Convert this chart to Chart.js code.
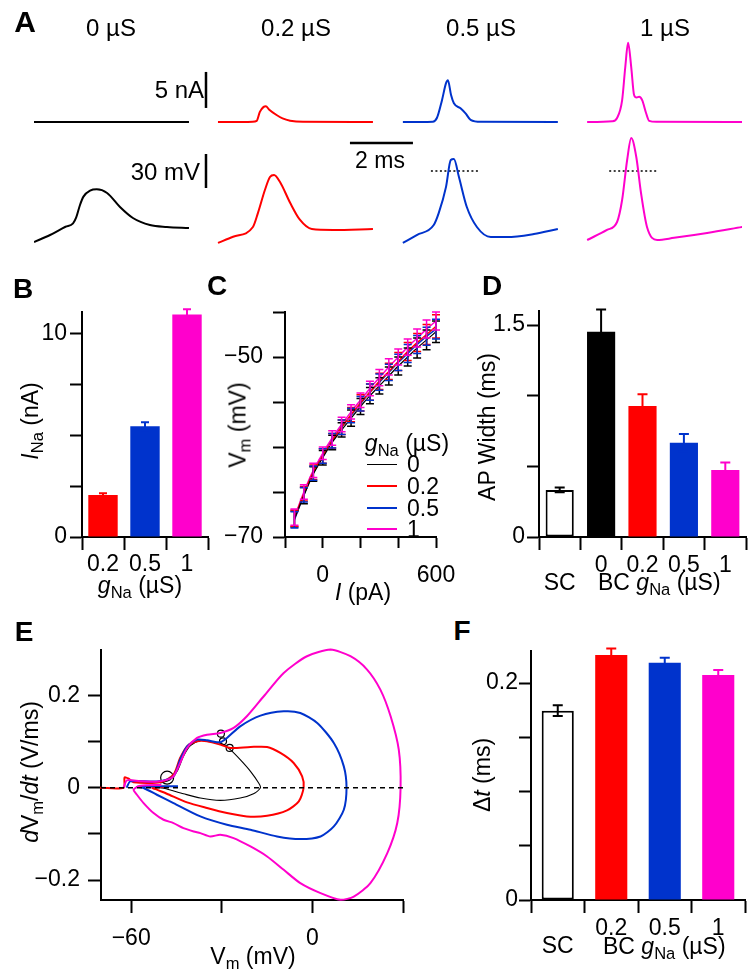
<!DOCTYPE html>
<html>
<head>
<meta charset="utf-8">
<script src="https://cdn.jsdelivr.net/npm/chart.js@4.4.1/dist/chart.umd.min.js"></script>
<style>
html,body{margin:0;padding:0;background:#fff;}
#fig{position:relative;width:748px;height:970px;overflow:hidden;font-family:'Liberation Sans',Arial,Helvetica,sans-serif;color:#000;}
#fig canvas{position:absolute;}
.t{position:absolute;white-space:nowrap;line-height:1;}
sub{font-size:72%;vertical-align:baseline;position:relative;top:0.32em;line-height:0;}
.sw{position:absolute;height:0;}
</style>
</head>
<body>
<div id="fig"></div>
<script>
// ---- colours
const BLACK = '#000000', RED = '#ff0000', BLUE = '#0033cc', MAGENTA = '#ff00cc';

// ---- panel A: simulated traces (time in ms, current in nA, voltage in mV)
const iTime0 = [0, 4.92];
const iVal0 = [0, 0];
const iTime02 = [0, 1.1, 1.23, 1.33, 1.45, 1.52, 1.62, 1.86, 2.05, 2.29, 2.7, 4.92];
const iVal02 = [0, 0.02, 0.15, 1.4, 2.1, 2.2, 1.75, 0.97, 0.5, 0.18, 0.02, 0];
const iTime05 = [0, 0.95, 1.08, 1.24, 1.37, 1.43, 1.53, 1.62, 1.83, 1.99, 2.15, 2.48, 4.92];
const iVal05 = [0, 0.05, 0.55, 3.0, 5.4, 5.8, 3.75, 2.6, 1.9, 1.2, 0.3, 0.02, 0];
const iTime1 = [0, 0.8, 0.95, 1.11, 1.21, 1.30, 1.40, 1.49, 1.57, 1.65, 1.75, 1.87, 1.97, 2.2, 4.92];
const iVal1 = [0, 0.1, 0.55, 3.0, 7.6, 11.0, 7.6, 3.75, 3.4, 3.5, 3.0, 1.25, 0.15, 0.02, 0];

const vTime0 = [0, 0.51, 1.0, 1.24, 1.34, 1.46, 1.57, 1.78, 1.99, 2.32, 2.73, 3.14, 3.68, 4.22, 4.92];
const vVal0 = [-62.7, -56.5, -49.2, -46.2, -41, -30, -22.6, -17.4, -16.2, -19.4, -31.8, -41.5, -47.7, -49.4, -50.3];
const vTime02 = [0, 0.48, 1.11, 1.27, 1.49, 1.65, 1.78, 1.97, 2.29, 2.6, 2.98, 3.65, 4.92];
const vVal02 = [-63.5, -58, -49.4, -37, -16.8, -5.3, -3.5, -9.7, -28, -43, -51.2, -52, -51.2];
const vTime05 = [0, 0.44, 0.98, 1.14, 1.37, 1.52, 1.62, 1.78, 2.03, 2.35, 2.79, 3.30, 4.16, 4.92];
const vVal05 = [-63.5, -56.5, -47.7, -37, -14, 9.7, 10.6, -5.3, -31.8, -49.4, -58.3, -58.3, -55.6, -51.2];
const vTime1 = [0, 0.63, 0.95, 1.11, 1.27, 1.40, 1.56, 1.71, 1.90, 2.22, 2.76, 3.81, 4.92];
const vVal1 = [-60.9, -52, -45, -25.6, 9.7, 29.1, 12.4, -19.4, -49.4, -60.9, -59, -54.7, -49.4];

// 0 mV reference (dotted) spans, ms within column
const zeroSpan05 = [0.89, 2.44];
const zeroSpan1 = [0.70, 2.25];

// ---- panel B
const bCats = ['0.2', '0.5', '1'];
const bMean = [2.06, 5.44, 10.93];
const bErr = [0.09, 0.2, 0.25];

// ---- panel C: V-I relation
const cCurrent = [-150, -100, -50, 0, 50, 100, 150, 200, 250, 300, 350, 400, 450, 500, 550, 600];
const cV0 = [-68.0, -65.4, -63.0, -61.2, -59.5, -58.1, -56.8, -55.5, -54.3, -53.2, -52.1, -51.0, -50.0, -49.0, -48.1, -47.2];
const cV02 = [-67.9, -65.2, -62.8, -61.0, -59.3, -57.8, -56.4, -55.1, -53.9, -52.7, -51.6, -50.5, -49.4, -48.4, -47.5, -46.6];
const cV05 = [-68.1, -65.3, -62.9, -61.0, -59.3, -57.8, -56.5, -55.2, -53.9, -52.8, -51.7, -50.6, -49.6, -48.6, -47.7, -46.9];
const cV1 = [-67.8, -65.0, -62.6, -60.7, -59.0, -57.5, -56.1, -54.8, -53.5, -52.3, -51.1, -50.0, -48.9, -47.9, -46.9, -46.0];
const cErr0 = [0.9, 0.9, 0.8, 0.8, 0.8, 0.8, 0.9, 0.9, 0.9, 0.9, 1.0, 1.0, 1.0, 1.1, 1.1, 1.2];
const cErr02 = [0.9, 0.8, 0.8, 0.8, 0.8, 0.8, 0.8, 0.9, 0.9, 0.9, 0.9, 1.0, 1.0, 1.0, 1.1, 1.3];
const cErr05 = [0.9, 0.8, 0.8, 0.8, 0.8, 0.8, 0.8, 0.8, 0.9, 0.9, 0.9, 0.9, 1.0, 1.0, 1.0, 1.1];
const cErr1 = [0.9, 0.8, 0.8, 0.7, 0.8, 0.8, 0.8, 0.8, 0.8, 0.9, 0.9, 0.9, 0.9, 1.0, 1.0, 1.0];

// ---- panel D
const dCats = [['', 'SC'], '0', '0.2', '0.5', '1'];
const dMean = [0.333, 1.453, 0.927, 0.667, 0.474];
const dErr = [0.017, 0.157, 0.083, 0.062, 0.054];

// ---- panel E: phase plots (Vm in mV, dVm/dt in V/ms)
const pV1 = [-62.5, -61.4, -57.0, -52.0, -48.2, -46.0, -43.8, -41.5, -38.2, -34.9, -30.5, -26.1, -21.7, -16.1, -9.5, -1.8, 6.0, 12.6, 18.1, 22.5, 25.9, 28.6, 29.2, 28.1, 24.8, 19.2, 13.7, 9.3, 2.7, -4.0, -9.5, -15.0, -20.5, -26.1, -30.5, -33.8, -37.1, -39.3, -42.7, -46.0, -49.3, -52.6, -55.9, -58.1, -59.2, -57.0, -50.0];
const pD1 = [0.0, 0.016, 0.014, 0.013, 0.017, 0.0245, 0.0535, 0.086, 0.1077, 0.1148, 0.1185, 0.1293, 0.1545, 0.1979, 0.2484, 0.2845, 0.299, 0.2845, 0.2557, 0.2123, 0.1545, 0.0823, 0.0, -0.0765, -0.1415, -0.2065, -0.2355, -0.2427, -0.2282, -0.2065, -0.1777, -0.1488, -0.1272, -0.109, -0.1018, -0.1055, -0.0982, -0.0946, -0.0874, -0.0765, -0.0693, -0.0548, -0.0332, -0.0152, -0.0043, 0.004, 0.006];
const pV05 = [-61.5, -60.3, -51.5, -46.0, -43.8, -41.5, -38.2, -34.9, -30.5, -28.3, -23.9, -17.2, -9.5, -4.0, 1.6, 7.1, 10.4, 11.3, 10.4, 7.1, 2.7, -4.0, -11.7, -20.5, -28.3, -37.1, -46.0, -51.5, -55.9, -58.0, -51.0, -44.5];
const pD05 = [0.0, 0.0137, 0.0137, 0.0245, 0.0607, 0.0895, 0.104, 0.1025, 0.0982, 0.1077, 0.1329, 0.156, 0.1654, 0.1618, 0.1402, 0.0968, 0.0462, 0.0, -0.0477, -0.0838, -0.1055, -0.1112, -0.1055, -0.091, -0.0802, -0.0621, -0.0332, -0.0152, -0.0007, 0.002, 0.003, 0.003];
const pV02 = [-70.3, -62.5, -62.2, -61.0, -59.2, -50.4, -46.0, -43.8, -41.5, -38.2, -34.9, -30.5, -27.2, -20.5, -15.0, -10.6, -6.2, -3.4, -2.9, -4.5, -8.4, -15.0, -21.7, -28.3, -34.9, -41.5, -48.2, -51.5, -53.0, -48.0];
const pD02 = [0.0, 0.0, 0.022, 0.02, 0.0116, 0.0116, 0.0282, 0.0643, 0.0895, 0.1004, 0.1004, 0.0932, 0.086, 0.0881, 0.0881, 0.0752, 0.0535, 0.0245, 0.0, -0.0296, -0.0491, -0.0607, -0.0621, -0.0548, -0.044, -0.0318, -0.013, -0.0043, 0.0, 0.002];
const pV0 = [-50.4, -47.1, -44.8, -42.7, -40.4, -37.1, -33.8, -29.9, -27.2, -23.9, -20.5, -17.8, -17.2, -19.5, -23.9, -30.5, -37.1, -42.7, -48.2, -50.4];
const pD0 = [0.0101, 0.0173, 0.0354, 0.0679, 0.091, 0.1025, 0.1004, 0.0953, 0.0823, 0.0607, 0.0354, 0.0101, 0.0, -0.013, -0.0224, -0.0274, -0.0224, -0.013, -0.0029, 0.0];
// threshold markers
const thrV = [-48.1, -30.3, -29.6, -27.4];
const thrD = [0.0217, 0.117, 0.1004, 0.086];

// ---- panel F
const fCats = [['', 'SC'], '0.2', '0.5', '1'];
const fMean = [0.1745, 0.2258, 0.2187, 0.2074];
const fErr = [0.005, 0.006, 0.0046, 0.0046];

// ---------------------------------------------------------------
Chart.defaults.font.family = "'Liberation Sans', Arial, Helvetica, sans-serif";
Chart.defaults.font.size = 23;
Chart.defaults.color = '#000';

const fig = document.getElementById('fig');

function fmt(v){
  const r = Math.round(v * 1000) / 1000;
  return (r < 0 ? '\u2212' : '') + Math.abs(r);
}

function pts(xs, ys, off){
  return xs.map((x, i) => ({x: x + (off || 0), y: ys[i]}));
}

// error bars drawn on top of the datasets
const errorBars = {
  id: 'errorBars',
  afterDatasetsDraw(chart){
    const ctx = chart.ctx;
    chart.data.datasets.forEach((ds, di) => {
      if(!ds.errors) return;
      const meta = chart.getDatasetMeta(di);
      const ys = chart.scales[meta.yAxisID];
      ctx.save();
      ctx.lineWidth = ds.errWidth || 2;
      meta.data.forEach((el, i) => {
        const v = ds.data[i];
        const val = typeof v === 'object' ? v.y : v;
        const e = ds.errors[i];
        const top = ys.getPixelForValue(val + e), bot = ys.getPixelForValue(val - e);
        const cap = ds.capW || 4;
        ctx.strokeStyle = Array.isArray(ds.errColor) ? ds.errColor[i] : ds.errColor;
        ctx.beginPath();
        ctx.moveTo(el.x, top); ctx.lineTo(el.x, bot);
        ctx.moveTo(el.x - cap, top); ctx.lineTo(el.x + cap, top);
        ctx.moveTo(el.x - cap, bot); ctx.lineTo(el.x + cap, bot);
        ctx.stroke();
      });
      ctx.restore();
    });
  }
};

// chart area is placed exactly at `area`; margins hold the axes
function makeChart(area, m, config){
  const c = document.createElement('canvas');
  const w = area.w + m.l + m.r, h = area.h + m.t + m.b;
  c.width = w; c.height = h;
  c.style.left = (area.l - m.l) + 'px';
  c.style.top = (area.t - m.t) + 'px';
  c.style.width = w + 'px'; c.style.height = h + 'px';
  fig.appendChild(c);
  const o = config.options;
  o.responsive = false; o.animation = false; o.devicePixelRatio = 1; o.events = [];
  o.layout = {padding: {left: 0, top: m.t, right: m.r, bottom: 0}};
  o.plugins = {legend: {display: false}, tooltip: {enabled: false}};
  for(const id in o.scales){
    const s = o.scales[id];
    if(s.display === false) continue;
    if(id === 'y') s.afterFit = sc => { sc.width = m.l; };
    else s.afterFit = sc => { sc.height = m.b; };
  }
  config.plugins = [errorBars];
  return new Chart(c, config);
}

function linAxis(pos, min, max, step, show, tickLen, pad){
  return {
    type: 'linear', position: pos, min, max,
    border: {display: true, color: '#000', width: 2},
    grid: {drawOnChartArea: false, drawTicks: true, tickLength: tickLen, tickColor: '#000', tickWidth: 2},
    ticks: {stepSize: step, includeBounds: false, padding: pad, maxRotation: 0, autoSkip: false,
      callback: v => show.some(s => Math.abs(s - v) < step / 100) ? fmt(v) : ''}
  };
}

function catAxis(tickLen, pad, lh){
  return {
    type: 'category', position: 'bottom', offset: true,
    border: {display: true, color: '#000', width: 2},
    grid: {offset: true, drawOnChartArea: false, drawTicks: true, tickLength: tickLen, tickColor: '#000', tickWidth: 2},
    ticks: {padding: pad, maxRotation: 0, autoSkip: false, font: {size: 23, lineHeight: lh}}
  };
}

function hidden(min, max){
  return {type: 'linear', display: false, min, max};
}

function trace(xs, ys, off, color){
  return {data: pts(xs, ys, off), borderColor: color, borderWidth: 2, pointRadius: 0,
    showLine: true, cubicInterpolationMode: 'monotone', clip: 3};
}

function segment(p, color, width, dash){
  return {data: p, borderColor: color, borderWidth: width, pointRadius: 0, showLine: true,
    borderDash: dash || [], clip: false};
}

// ---- panel A
const colOffsetMs = [0, 5.84, 11.71, 17.56];   // column starts on the shared time axis
const aTimeMax = 22.476;
const barX = 5.46;                              // scale bar position, ms

makeChart({l: 34, t: 35, w: 708, h: 90}, {l: 0, t: 0, r: 0, b: 0}, {
  type: 'scatter',
  data: {datasets: [
    trace(iTime0, iVal0, colOffsetMs[0], BLACK),
    trace(iTime02, iVal02, colOffsetMs[1], RED),
    trace(iTime05, iVal05, colOffsetMs[2], BLUE),
    trace(iTime1, iVal1, colOffsetMs[3], MAGENTA),
    segment([{x: barX, y: 1.95}, {x: barX, y: 6.95}], BLACK, 2.5)      // 5 nA
  ]},
  options: {scales: {x: hidden(0, aTimeMax), y: hidden(-0.417, 12.08)}}
});

makeChart({l: 34, t: 130, w: 708, h: 122}, {l: 0, t: 0, r: 0, b: 0}, {
  type: 'scatter',
  data: {datasets: [
    trace(vTime0, vVal0, colOffsetMs[0], BLACK),
    trace(vTime02, vVal02, colOffsetMs[1], RED),
    trace(vTime05, vVal05, colOffsetMs[2], BLUE),
    trace(vTime1, vVal1, colOffsetMs[3], MAGENTA),
    segment([{x: barX, y: -15}, {x: barX, y: 15}], BLACK, 2.5),        // 30 mV
    segment([{x: 10.03, y: 24.7}, {x: 12.03, y: 24.7}], BLACK, 2.5),   // 2 ms
    segment(zeroSpan05.map(t => ({x: t + colOffsetMs[2], y: 0})), BLACK, 1.3, [2, 2.5]),
    segment(zeroSpan1.map(t => ({x: t + colOffsetMs[3], y: 0})), BLACK, 1.3, [2, 2.5])
  ]},
  options: {scales: {x: hidden(0, aTimeMax), y: hidden(-71.49, 36.19)}}
});

// ---- panel B
makeChart({l: 82, t: 312, w: 126, h: 225}, {l: 75, t: 34, r: 12, b: 60}, {
  type: 'bar',
  data: {labels: bCats, datasets: [{
    data: bMean, errors: bErr, errColor: [RED, BLUE, MAGENTA], capW: 4,
    backgroundColor: [RED, BLUE, MAGENTA], borderWidth: 0,
    barPercentage: 0.7, categoryPercentage: 1
  }]},
  options: {scales: {x: catAxis(13, 4, 0.92), y: linAxis('left', 0, 11.05, 2.5, [0, 10], 12, 3)}}
});

// ---- panel C
function vi(vals, errs, color, width){
  return {data: pts(cCurrent, vals), errors: errs, errColor: color, errWidth: 1.5, capW: 4,
    borderColor: color, borderWidth: width, pointRadius: 0, showLine: true, tension: 0.2, clip: false};
}
makeChart({l: 285, t: 312, w: 151, h: 225}, {l: 60, t: 34, r: 42, b: 60}, {
  type: 'scatter',
  data: {datasets: [vi(cV0, cErr0, BLACK, 1.2), vi(cV02, cErr02, RED, 1.5), vi(cV05, cErr05, BLUE, 1.5), vi(cV1, cErr1, MAGENTA, 1.5)]},
  options: {scales: {x: linAxis('bottom', -200, 600, 200, [0, 600], 11, 14), y: linAxis('left', -70, -45, 5, [-70, -50], 12, 10)}}
});

// ---- panel D
makeChart({l: 539, t: 311, w: 207, h: 226}, {l: 50, t: 34, r: 2, b: 62}, {
  type: 'bar',
  data: {labels: dCats, datasets: [{
    data: dMean, errors: dErr, capW: 5,
    errColor: [BLACK, BLACK, RED, BLUE, MAGENTA],
    backgroundColor: ['#ffffff', BLACK, RED, BLUE, MAGENTA],
    borderColor: [BLACK, BLACK, RED, BLUE, MAGENTA], borderWidth: [2, 0, 0, 0, 0], borderSkipped: false,
    barPercentage: 0.68, categoryPercentage: 1
  }]},
  options: {scales: {x: catAxis(13, 6, 0.8), y: linAxis('left', 0, 1.6, 0.5, [0, 1.5], 12, 2)}}
});

// ---- panel E
function loop(vs, ds, color, width){
  return {data: pts(vs, ds), borderColor: color, borderWidth: width, pointRadius: 0, showLine: true, tension: 0.25, clip: 4};
}
makeChart({l: 101, t: 650, w: 302, h: 250}, {l: 70, t: 34, r: 24, b: 60}, {
  type: 'scatter',
  data: {datasets: [
    segment([{x: -70, y: 0}, {x: 30, y: 0}], BLACK, 1.4, [5, 4]),
    loop(pV1, pD1, MAGENTA, 2),
    loop(pV05, pD05, BLUE, 2),
    loop(pV02, pD02, RED, 2),
    loop(pV0, pD0, BLACK, 1.1),
    {data: pts(thrV, thrD), showLine: false, pointRadius: [6.5, 3.5, 3.5, 3.5], pointStyle: 'circle',
      pointBackgroundColor: 'rgba(0,0,0,0)', pointBorderColor: BLACK, pointBorderWidth: 1.2, clip: false}
  ]},
  options: {scales: {x: linAxis('bottom', -70, 30, 30, [-60, 0], 13, 12), y: linAxis('left', -0.243, 0.298, 0.1, [-0.2, 0, 0.2], 13, 8)}}
});

// ---- panel F
makeChart({l: 531, t: 651, w: 214, h: 249}, {l: 50, t: 34, r: 3, b: 66}, {
  type: 'bar',
  data: {labels: fCats, datasets: [{
    data: fMean, errors: fErr, capW: 5,
    errColor: [BLACK, RED, BLUE, MAGENTA],
    backgroundColor: ['#ffffff', RED, BLUE, MAGENTA],
    borderColor: [BLACK, RED, BLUE, MAGENTA], borderWidth: [2, 0, 0, 0], borderSkipped: false,
    barPercentage: 0.6, categoryPercentage: 1
  }]},
  options: {scales: {x: catAxis(13, 6, 0.8), y: linAxis('left', 0, 0.2295, 0.05, [0, 0.2], 12, 1)}}
});

// ---- text
function addText(html, x, y, size, opt){
  opt = opt || {};
  const d = document.createElement('div');
  d.className = 't';
  d.innerHTML = html;
  d.style.left = x + 'px'; d.style.top = y + 'px';
  d.style.fontSize = size + 'px';
  if(opt.bold) d.style.fontWeight = 'bold';
  let tr = opt.anchor === 'left' ? 'translate(0,-50%)' : opt.anchor === 'right' ? 'translate(-100%,-50%)' : 'translate(-50%,-50%)';
  if(opt.rot) tr += ' rotate(-90deg)';
  d.style.transform = tr;
  fig.appendChild(d);
}

const letters = [['A', 25, 22, 30], ['B', 23, 289, 28], ['C', 217, 286, 28], ['D', 492, 286, 28], ['E', 24, 632, 28], ['F', 462, 631, 28]];
letters.forEach(l => addText(l[0], l[1], l[2], l[3], {bold: true}));

const colTitles = ['0 \u00b5S', '0.2 \u00b5S', '0.5 \u00b5S', '1 \u00b5S'];
const colTitleX = [111, 296, 481, 665];
colTitles.forEach((s, i) => addText(s, colTitleX[i], 28, 24));

addText('5 nA', 204, 90, 24, {anchor: 'right'});
addText('30 mV', 200, 172, 24, {anchor: 'right'});
addText('2 ms', 380, 160, 23);

addText('<i>I</i><sub>Na</sub> (nA)', 30, 421, 23, {rot: true});
addText('<i>g</i><sub>Na</sub> (\u00b5S)', 140, 585, 23);
addText('V<sub>m</sub> (mV)', 238, 425, 23, {rot: true});
addText('<i>I</i> (pA)', 363, 592, 23);
addText('AP Width (ms)', 487, 427, 23, {rot: true});
addText('BC <i>g</i><sub>Na</sub> (\u00b5S)', 598, 582, 23, {anchor: 'left'});
addText('<i>d</i>V<sub>m</sub>/<i>dt</i> (V/ms)', 30, 772, 23, {rot: true});
addText('V<sub>m</sub> (mV)', 253, 956, 23);
addText('\u0394<i>t</i> (ms)', 482, 775, 23, {rot: true});
addText('BC <i>g</i><sub>Na</sub> (\u00b5S)', 603, 946, 23, {anchor: 'left'});

// legend of panel C
addText('<i>g</i><sub>Na</sub> (\u00b5S)', 407, 443, 23);
const legNames = ['0', '0.2', '0.5', '1'];
const legColors = [BLACK, RED, BLUE, MAGENTA];
const legY = [464, 486, 508, 529];
legNames.forEach((n, i) => {
  const s = document.createElement('div');
  s.className = 'sw';
  s.style.left = '367px'; s.style.width = '30px';
  s.style.top = (legY[i] - (i === 0 ? 0.5 : 1.2)) + 'px';
  s.style.borderTop = (i === 0 ? 1 : 2.5) + 'px solid ' + legColors[i];
  fig.appendChild(s);
  addText(n, 407, legY[i], 23, {anchor: 'left'});
});
</script>
</body>
</html>
